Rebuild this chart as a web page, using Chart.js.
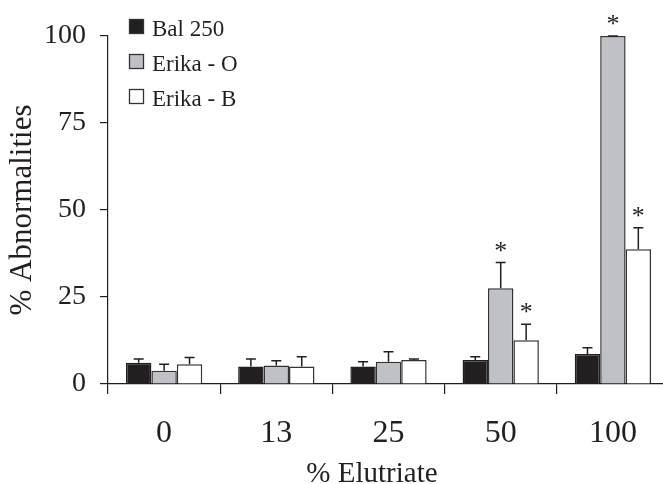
<!DOCTYPE html>
<html>
<head>
<meta charset="utf-8">
<script src="https://cdn.jsdelivr.net/npm/chart.js@4.4.1/dist/chart.umd.min.js"></script>
<style>
  html, body { margin: 0; padding: 0; background: #ffffff; overflow: hidden; }
  #wrap { position: relative; width: 675px; height: 484px; }
</style>
</head>
<body>
<div id="wrap"><canvas id="c" width="675" height="484"></canvas></div>
<script>
// ---- data ----
const categories = ['0', '13', '25', '50', '100'];
const seriesNames = ['Bal 250', 'Erika - O', 'Erika - B'];
const bal250 = [6.1, 5.0, 5.0, 6.9, 8.6];
const bal250Err = [1.1, 2.2, 1.4, 0.9, 1.8];
const erikaO = [3.8, 5.3, 6.4, 27.5, 100];
const erikaOErr = [1.9, 1.4, 2.9, 7.4, 0];
const erikaB = [5.7, 5.0, 6.9, 12.6, 38.7];
const erikaBErr = [1.9, 2.8, 0.3, 4.6, 6.2];
const bal250Star = [false, false, false, false, false];
const erikaOStar = [false, false, false, true, true];
const erikaBStar = [false, false, false, true, true];
const yTicks = [0, 25, 50, 75, 100];
const xTitle = '% Elutriate';
const yTitle = '% Abnormalities';

const INK = '#231f20';
const SERIF = '"Liberation Serif", "DejaVu Serif", serif';
const fills = ['#231f20', '#bfc1c7', '#ffffff'];

const errs = [bal250Err, erikaOErr, erikaBErr];
const stars = [bal250Star, erikaOStar, erikaBStar];

const errorBarPlugin = {
  id: 'errorBars',
  afterDatasetsDraw(chart) {
    const ctx = chart.ctx;
    const ys = chart.scales.y;
    ctx.save();
    chart.data.datasets.forEach((ds, i) => {
      const meta = chart.getDatasetMeta(i);
      meta.data.forEach((el, j) => {
        const v = ds.data[j];
        const e = errs[i][j];
        const yTop = ys.getPixelForValue(v + e);
        ctx.strokeStyle = INK;
        ctx.lineWidth = 1.5;
        ctx.beginPath();
        ctx.moveTo(el.x, el.y);
        ctx.lineTo(el.x, yTop);
        ctx.moveTo(el.x - 5, yTop);
        ctx.lineTo(el.x + 5, yTop);
        ctx.stroke();
        if (stars[i][j]) {
          ctx.fillStyle = INK;
          ctx.font = '26px ' + SERIF;
          ctx.textAlign = 'center';
          ctx.textBaseline = 'alphabetic';
          ctx.fillText('*', el.x, yTop - 17 + 13);
        }
      });
    });
    ctx.restore();
  }
};

const legendPlugin = {
  id: 'customLegend',
  afterDraw(chart) {
    const ctx = chart.ctx;
    ctx.save();
    chart.data.datasets.forEach((ds, i) => {
      const base = 36 + i * 35;
      ctx.fillStyle = ds.backgroundColor;
      ctx.fillRect(129, base - 17, 15, 15);
      ctx.strokeStyle = '#333333';
      ctx.lineWidth = 1.3;
      ctx.strokeRect(129.5, base - 16.5, 14, 14);
      ctx.fillStyle = INK;
      ctx.font = '23px ' + SERIF;
      ctx.textAlign = 'left';
      ctx.textBaseline = 'alphabetic';
      ctx.fillText(ds.label, 152, base);
    });
    // x axis title
    ctx.font = '29px ' + SERIF;
    ctx.textAlign = 'center';
    ctx.textBaseline = 'alphabetic';
    ctx.fillText(xTitle, 372, 482);
    ctx.restore();
  }
};

new Chart(document.getElementById('c'), {
  type: 'bar',
  data: {
    labels: categories,
    datasets: [
      { label: seriesNames[0], data: bal250, backgroundColor: fills[0], borderColor: '#231f20', borderWidth: 1.5 },
      { label: seriesNames[1], data: erikaO, backgroundColor: fills[1], borderColor: '#333333', borderWidth: 1.5 },
      { label: seriesNames[2], data: erikaB, backgroundColor: fills[2], borderColor: '#333333', borderWidth: 1.5 }
    ]
  },
  options: {
    responsive: false,
    devicePixelRatio: 1,
    animation: false,
    layout: { padding: { top: 36, right: 6, left: 0, bottom: 0 } },
    datasets: { bar: { categoryPercentage: 0.68, barPercentage: 1.0 } },
    plugins: { legend: { display: false }, tooltip: { enabled: false } },
    scales: {
      x: {
        offset: true,
        grid: { display: true, offset: true, drawOnChartArea: false, drawTicks: true, tickLength: 10, color: INK, lineWidth: 1.2 },
        border: { display: true, color: INK, width: 1.2 },
        ticks: { font: { family: SERIF, size: 32 }, color: INK, padding: 20 },
        afterFit(scale) { scale.height = 100; }
      },
      y: {
        min: 0, max: 100,
        afterBuildTicks(scale) { scale.ticks = yTicks.map(v => ({ value: v })); },
        grid: { display: true, drawOnChartArea: false, drawTicks: true, tickLength: 8, color: INK, lineWidth: 1.2 },
        border: { display: true, color: INK, width: 1.2 },
        ticks: { font: { family: SERIF, size: 28 }, color: INK, padding: 14 },
        title: { display: true, text: yTitle, font: { family: SERIF, size: 31 }, color: INK, padding: { top: 4, bottom: 0 } },
        afterFit(scale) { scale.width = 108; }
      }
    }
  },
  plugins: [errorBarPlugin, legendPlugin]
});
</script>
</body>
</html>
